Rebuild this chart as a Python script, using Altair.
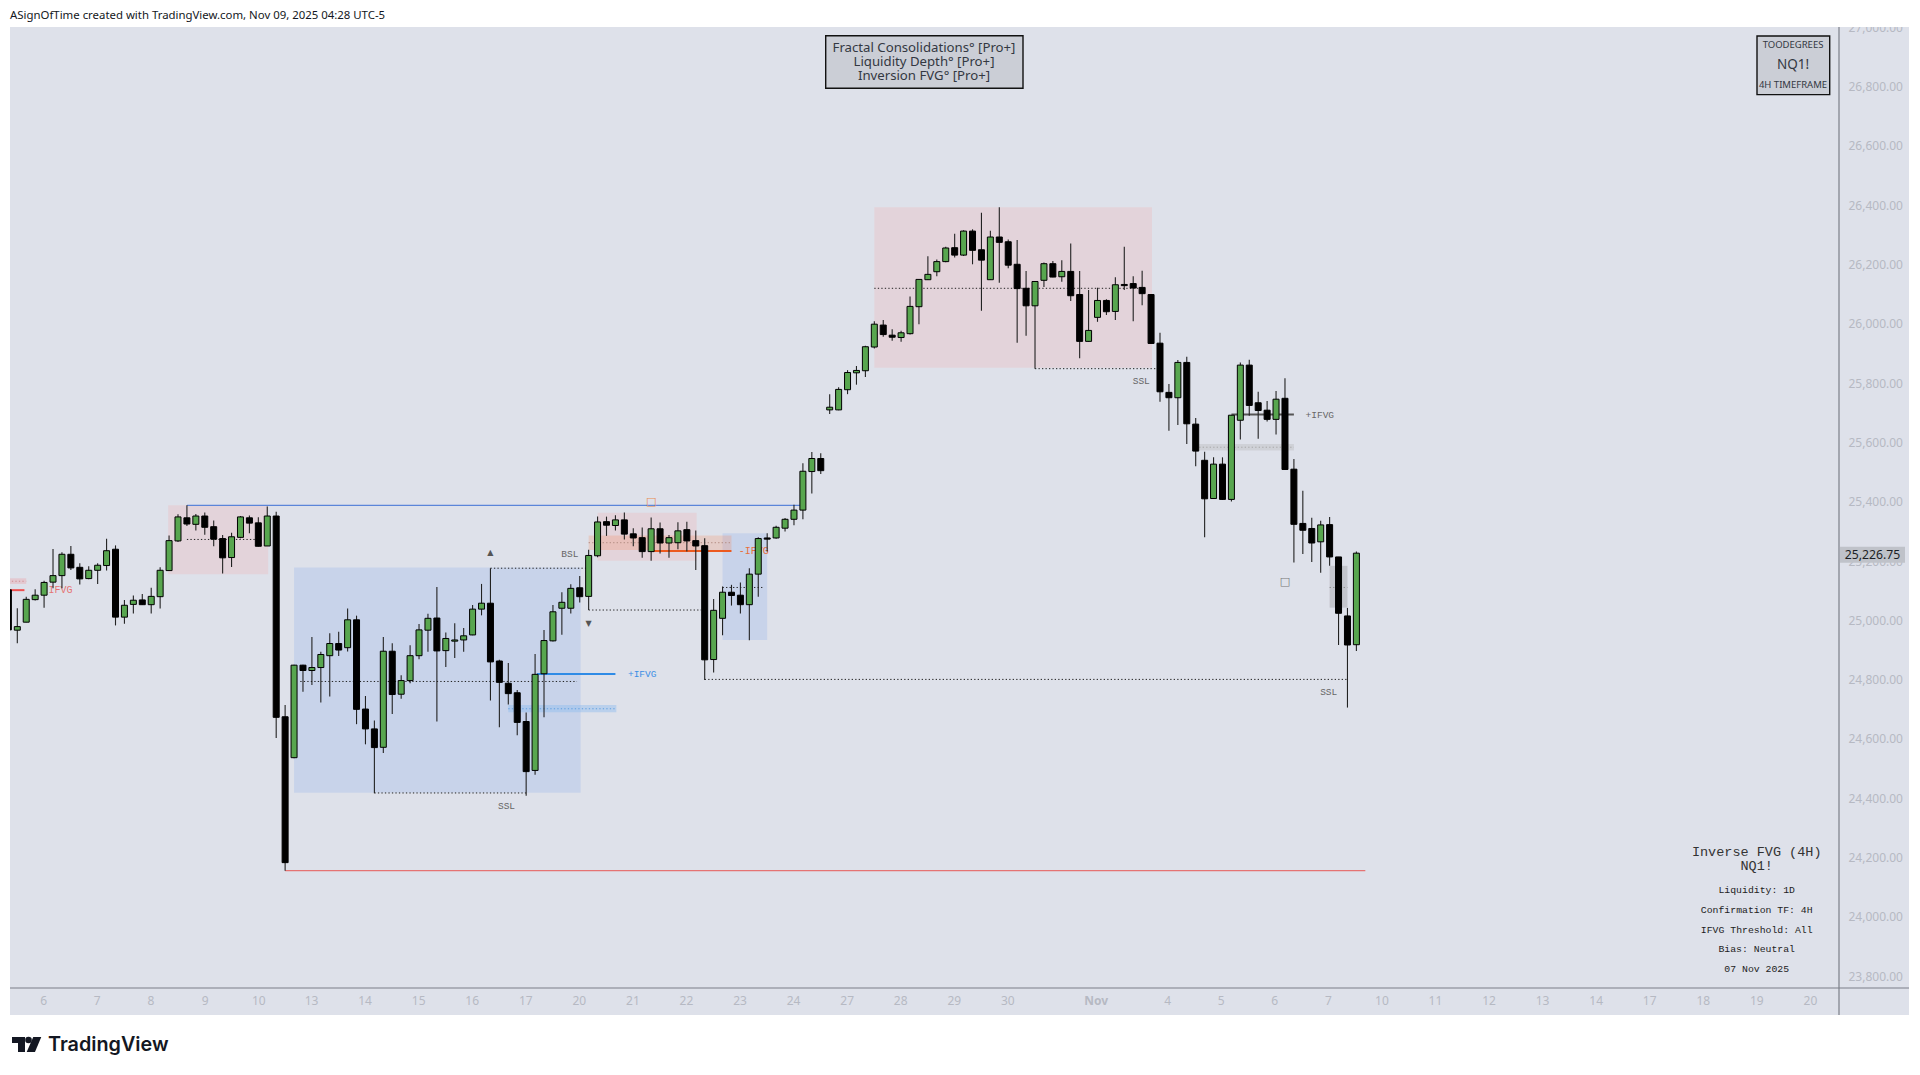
import json
import altair as alt
import pandas as pd

# ---- candle values (bar index -1 .. 150) ----
HIGH = [25103,
 25041,25080,25105,25134,25241,25230,25251,25193,25183,25193,
 25275,25253,25069,25084,25089,25110,25179,25286,25358,25388,
 25359,25364,25337,25288,25296,25352,25354,25348,25384,25366,
 24715,24850,24850,24944,24894,24957,24962,25040,25016,24745,
 24662,24944,24923,24815,24916,24988,25022,25113,24959,24990,
 24974,25052,25123,25176,24867,24856,24765,24689,24887,24968,
 25052,25095,25122,25150,25238,25350,25350,25355,25364,25311,
 25313,25347,25330,25288,25331,25333,25303,25277,25072,25114,
 25120,25128,25176,25280,25294,25319,25345,25390,25530,25568,
 25564,25763,25786,25844,25858,25926,26009,26013,25982,25977,
 26092,26150,26228,26217,26260,26304,26316,26319,26375,26314,
 26393,26285,26283,26178,26144,26207,26212,26215,26271,26178,
 26114,26122,26083,26157,26260,26161,26179,26101,25970,25797,
 25878,25889,25683,25569,25550,25550,25693,25870,25879,25771,
 25740,25774,25817,25544,25437,25346,25336,25349,25214,25042,
 25232]
BODY_TOP = [25103,
 24979,25071,25085,25128,25151,25223,25223,25179,25169,25186,
 25235,25240,25051,25068,25069,25081,25169,25269,25349,25346,
 25352,25352,25316,25276,25282,25349,25346,25329,25352,25352,
 24675,24849,24849,24841,24885,24922,24922,25002,25002,24701,
 24634,24896,24896,24797,24881,24968,25007,25008,24939,24934,
 24948,25038,25058,25058,24863,24788,24756,24659,24818,24932,
 25029,25061,25108,25110,25219,25332,25333,25339,25339,25292,
 25279,25309,25309,25279,25302,25306,25269,25252,25034,25095,
 25095,25085,25156,25276,25278,25314,25341,25372,25503,25546,
 25546,25719,25779,25836,25843,25923,25999,25996,25962,25970,
 26059,26150,26167,26210,26256,26257,26313,26313,26250,26293,
 26293,26277,26201,26120,26143,26203,26203,26177,26177,26099,
 25978,26079,26079,26132,26133,26136,26123,26099,25935,25769,
 25870,25870,25662,25540,25527,25527,25692,25861,25861,25734,
 25709,25746,25749,25510,25327,25310,25322,25323,25214,25015,
 25226.75]
BODY_BOTTOM = [24968,
 24967,24994,25070,25085,25129,25151,25177,25140,25141,25169,
 25185,25011,25011,25054,25053,25053,25080,25168,25268,25325,
 25324,25314,25274,25211,25212,25280,25328,25250,25251,24673,
 24183,24537,24831,24831,24841,24881,24900,24908,24700,24634,
 24571,24572,24750,24751,24797,24881,24967,24897,24898,24930,
 24934,24951,25038,24860,24791,24753,24656,24490,24494,24820,
 24931,25041,25041,25080,25081,25218,25321,25320,25291,25278,
 25232,25232,25261,25261,25262,25268,25251,24867,24868,25007,
 25084,25053,25053,25156,25274,25278,25311,25341,25372,25502,
 25505,25710,25710,25778,25835,25842,25922,25964,25955,25954,
 25967,26058,26149,26176,26210,26232,26232,26248,26215,26149,
 26275,26198,26119,26061,26061,26147,26158,26159,26095,25941,
 25941,26022,26041,26042,26129,26121,26102,25934,25771,25751,
 25751,25663,25571,25410,25411,25408,25408,25675,25725,25708,
 25678,25678,25509,25324,25304,25261,25265,25214,25024,24917,
 24918]
LOW = [24968,
 24923,24994,25067,25043,25108,25108,25170,25121,25139,25123,
 25168,24983,24989,25023,25052,25023,25040,25168,25264,25318,
 25303,25289,25250,25158,25180,25277,25294,25249,25251,24603,
 24156,24535,24759,24782,24723,24743,24880,24895,24650,24582,
 24417,24553,24684,24736,24788,24869,24894,24659,24843,24873,
 24894,24950,25017,24730,24640,24716,24613,24409,24479,24673,
 24929,24952,25023,25060,25035,25213,25285,25303,25273,25250,
 25211,25201,25226,25211,25240,25232,25170,24799,24824,24950,
 25050,25023,24933,25080,25232,25275,25300,25321,25341,25428,
 25494,25696,25709,25763,25795,25821,25917,25957,25943,25940,
 25964,25999,26148,26161,26208,26224,26229,26201,26044,26148,
 26139,26188,25936,25960,25849,26124,26157,26142,26077,25884,
 25940,26007,26030,26013,26114,26009,26063,25934,25737,25640,
 25659,25595,25520,25280,25411,25406,25401,25610,25690,25613,
 25671,25627,25509,25195,25224,25197,25161,25184,24917,24706,
 24897]
BULL = [0,
 1,1,1,1,1,1,0,0,1,1,
 1,0,1,1,0,1,1,1,1,0,
 1,0,0,0,1,1,0,0,1,0,
 0,1,0,1,1,1,0,1,0,0,
 0,1,0,1,1,1,1,0,1,1,
 1,1,1,0,0,0,0,0,1,1,
 1,1,1,0,1,1,0,1,0,0,
 0,1,0,1,1,0,0,0,1,1,
 0,0,1,1,0,1,1,1,1,1,
 0,1,1,1,1,1,1,0,0,1,
 1,1,1,1,1,0,1,0,0,1,
 0,0,0,0,1,1,0,1,0,0,
 1,1,0,1,0,0,0,0,0,0,
 1,0,0,0,1,0,1,1,0,0,
 0,1,0,0,0,0,1,0,0,0,
 1]
FIRST_BAR = -1

# ---- axis content ----
PRICE_TICKS = [23800 + 200 * k for k in range(17)]
DAY_TICKS = [2.9, 8.9, 14.9, 21, 27, 32.9, 38.9, 44.9, 50.9, 56.9, 62.9, 68.9, 74.9, 80.9, 86.9, 92.9,
             98.9, 104.9, 110.9, 120.8, 128.8, 134.8, 140.8, 146.8, 152.8, 158.8, 164.8, 170.8, 176.8,
             182.8, 188.8, 194.8, 200.8]
DAY_LABELS = ["6", "7", "8", "9", "10", "13", "14", "15", "16", "17", "20", "21", "22", "23", "24",
              "27", "28", "29", "30", "Nov", "4", "5", "6", "7", "10", "11", "12", "13", "14", "17",
              "18", "19", "20"]
LAST_PRICE = 25226.75

# ---- zones: start bar, end bar, price top, price bottom, colour, opacity ----
ZONES = [
    (31, 63.1, 25178, 24419, "#c8d3ea", 1),
    (79, 84, 25294, 24934, "#c8d3ea", 1),
    (16.9, 28.1, 25388, 25156, "#e3d3da", 1),
    (65, 76.1, 25363, 25201, "#e3d3da", 1),
    (96, 127.1, 26393, 25852, "#e3d3da", 1),
    (64, 80, 25286, 25237, "#ff7a3c", 0.2),
    (-1, 1, 25142, 25123, "#e3c8d0", 1),
    (55, 67.1, 24715, 24690, "#8fbdf0", 0.45),
    (132, 143, 25595, 25573, "#cfd1d7", 1),
    (147, 149, 25184, 25043, "#c3c5cc", 1),
]
# ---- dotted levels: start bar, end bar, price, colour ----
DOTTED = [
    (19, 27, 25273, "#222222"), (31.7, 62.7, 24794, "#222222"), (40, 57, 24418, "#222222"),
    (53, 63.9, 25176, "#222222"), (64, 76.6, 25035, "#222222"), (77, 149, 24801, "#222222"),
    (79, 83.7, 25111, "#222222"), (96, 126, 26120, "#222222"), (114, 128, 25849, "#222222"),
    (55, 67, 24702, "#5f9fe0"), (132, 143, 25584, "#a8a8a8"), (147, 149, 25111, "#8a8a8a"),
    (64, 80, 25262, "#b08a80"), (-1, 1, 25132, "#d08a90"),
]
# ---- solid levels: start bar, end bar, price, colour, width ----
SOLID = [
    (19, 87.8, 25388, "#5b85d9", 1.2), (30, 151, 24156, "#e57373", 1.1),
    (-1, 0.8, 25102, "#ee5050", 2), (71.1, 80, 25234, "#ec5a1f", 2),
    (58.2, 67, 24819, "#2f8be6", 2), (136, 143, 25694, "#555555", 2),
]
# ---- annotation texts: bar, price, text, colour, size, font ----
MONO = "Liberation Mono"
NOTES = [
    (4.5, 25102, "-IFVG", "#e57373", 10, MONO),
    (82.5, 25234, "-IFVG", "#e8703a", 10, MONO),
    (70, 24819, "+IFVG", "#3b8ee5", 9.5, MONO),
    (145.9, 25693, "+IFVG", "#666666", 9.5, MONO),
    (61.9, 25224, "BSL", "#666666", 9.5, MONO),
    (54.8, 24375, "SSL", "#666666", 9.5, MONO),
    (125.9, 25807, "SSL", "#666666", 9.5, MONO),
    (146.9, 24758, "SSL", "#666666", 9.5, MONO),
    (71, 25400, "\u25a1", "#e88c50", 11, "DejaVu Sans"),
    (142, 25129, "\u25a1", "#777777", 11, "DejaVu Sans"),
    (53, 25228, "\u25b2", "#555555", 8, "DejaVu Sans"),
    (64, 24988, "\u25bc", "#555555", 8, "DejaVu Sans"),
]
HEADER = "ASignOfTime created with TradingView.com, Nov 09, 2025 04:28 UTC-5"
TOP_BOX = ["Fractal Consolidations\u00b0 [Pro+]", "Liquidity Depth\u00b0 [Pro+]", "Inversion FVG\u00b0 [Pro+]"]
TABLE = ["Liquidity: 1D", "Confirmation TF: 4H", "IFVG Threshold: All", "Bias: Neutral", "07 Nov 2025"]

PX = 10   # page x of the plot's left edge
PY = 27   # page y of the plot's top edge
W, H = 1829, 961
xs = alt.Scale(domain=[-0.818, 204.06], nice=False, zero=False, padding=0)
ys = alt.Scale(domain=[23760.2, 27001.3], nice=False, zero=False, padding=0)

XAX = alt.Axis(
    values=DAY_TICKS, domain=False, ticks=False, grid=False, labelPadding=7, labelOverlap=False,
    labelExpr="%s[indexof(%s,datum.value)]" % (json.dumps(DAY_LABELS), json.dumps(DAY_TICKS)),
    labelColor="#b6b9c3", labelFontSize=12, labelFont="Noto Sans",
    labelFontWeight=alt.expr("datum.value==120.8?'bold':'normal'"), zindex=0)
YAX = alt.Axis(
    orient="right", values=PRICE_TICKS, format=",.2f", domain=False, ticks=False, grid=False,
    labelPadding=9, labelOverlap=False, labelColor="#b6b9c3", labelFontSize=12,
    labelFont="Noto Sans", zindex=0)

bars = pd.DataFrame({
    "i": list(range(FIRST_BAR, FIRST_BAR + len(HIGH))), "h": HIGH, "l": LOW,
    "t": BODY_TOP, "b": BODY_BOTTOM,
    "c": ["#58a64f" if v else "#000000" for v in BULL],
})
zones = pd.DataFrame(ZONES, columns=["a", "b", "p", "q", "c", "o"])
dotted = pd.DataFrame(DOTTED, columns=["a", "b", "p", "c"])
solid = pd.DataFrame(SOLID, columns=["a", "b", "p", "c", "w"])

AX = lambda f: alt.X(f, scale=xs, axis=XAX, title=None)
AY = lambda f: alt.Y(f, scale=ys, axis=YAX, title=None)
ONE = alt.Data(values=[{"k": 1}])

layers = []
layers.append(alt.Chart(zones).mark_rect(clip=True).encode(
    x=AX("a:Q"), x2="b:Q", y=AY("p:Q"), y2="q:Q",
    color=alt.Color("c:N", scale=None), opacity=alt.Opacity("o:Q", scale=None)))
layers.append(alt.Chart(dotted).mark_rule(clip=True, strokeDash=[1.3, 2.2], strokeWidth=1).encode(
    x=AX("a:Q"), x2="b:Q", y=AY("p:Q"), color=alt.Color("c:N", scale=None)))
layers.append(alt.Chart(solid).mark_rule(clip=True).encode(
    x=AX("a:Q"), x2="b:Q", y=AY("p:Q"), color=alt.Color("c:N", scale=None),
    strokeWidth=alt.StrokeWidth("w:Q", scale=None)))
for (i, p, t, c, s, f) in NOTES:
    layers.append(alt.Chart(alt.Data(values=[{"i": i, "p": p, "t": t}])).mark_text(
        color=c, fontSize=s, font=f, align="center", baseline="middle", clip=True).encode(
        x=AX("i:Q"), y=AY("p:Q"), text="t:N"))
layers.append(alt.Chart(bars).mark_rule(clip=True, color="#222222", strokeWidth=1.1).encode(
    x=AX("i:Q"), y=AY("l:Q"), y2="h:Q"))
layers.append(alt.Chart(bars).mark_bar(clip=True, size=6, stroke="#000000", strokeWidth=1,
                                       orient="vertical").encode(
    x=AX("i:Q"), y=AY("b:Q"), y2="t:Q", color=alt.Color("c:N", scale=None)))


def box(x0, x1, y0, y1, fill, **kw):
    return alt.Chart(ONE).mark_rect(fill=fill, **kw).encode(
        x=alt.value(x0 - PX), x2=alt.value(x1 - PX), y=alt.value(y0 - PY), y2=alt.value(y1 - PY))


def line(x0, x1, y0, y1, color, width):
    return alt.Chart(ONE).mark_rule(color=color, strokeWidth=width).encode(
        x=alt.value(x0 - PX), x2=alt.value(x1 - PX), y=alt.value(y0 - PY), y2=alt.value(y1 - PY))


def txt(s, x, y, size, color="#131722", font="Noto Sans", align="center", weight="normal"):
    return alt.Chart(alt.Data(values=[{"t": s}])).mark_text(
        fontSize=size, color=color, font=font, align=align, baseline="middle", fontWeight=weight
    ).encode(text="t:N", x=alt.value(x - PX), y=alt.value(y - PY))


# white page around the panel (the canvas background is the panel colour)
layers += [
    box(8, 1912, 8, 27, "#ffffff"), box(8, 1912, 1015, 1067, "#ffffff"),
    box(8, 10, 8, 1067, "#ffffff"), box(1909, 1912, 8, 1067, "#ffffff"),
    line(1839, 1839, 27, 1015, "#7b7f88", 1.2),
    line(10, 1909, 988, 988, "#7b7f88", 1.2),
]
# last price tag
layers += [box(1840, 1905, 546.7, 562.7, "#bfc2c9"),
           txt("{:,.2f}".format(LAST_PRICE), 1872.5, 554.7, 12.2, "#1c1f26")]
# header + logo
layers.append(txt(HEADER, 10, 16, 11.4, "#131722", align="left"))
layers += [box(12, 25, 1037, 1043, "#131722"), box(18, 25, 1043, 1052, "#131722")]
layers.append(alt.Chart(ONE).mark_point(filled=True, size=44, shape="circle", color="#131722", opacity=1, strokeWidth=0)
              .encode(x=alt.value(28.5 - PX), y=alt.value(1040 - PY)))
layers.append(alt.Chart(ONE).mark_point(filled=True, size=225, color="#131722", opacity=1, strokeWidth=0,
                                        shape="M-0.1,-1 L0.97,-1 L0.13,1 L-0.97,1 Z")
              .encode(x=alt.value(34 - PX), y=alt.value(1044.5 - PY)))
layers.append(txt("TradingView", 48, 1045, 19.8, "#131722", "Inter", "left", 600))
# watermark boxes
layers.append(box(825.7, 1023, 35.7, 88.3, "#cbced6", stroke="#111111", strokeWidth=1.4))
for s, y in zip(TOP_BOX, [47.7, 62, 75.7]):
    layers.append(txt(s, 924, y, 13.2, "#333842"))
layers.append(box(1757, 1829.7, 36, 94.6, "#cbced6", stroke="#111111", strokeWidth=1.4))
layers += [txt("TOODEGREES", 1793, 45, 9.5, "#333842"), txt("NQ1!", 1793, 65, 13.5, "#333842"),
           txt("4H TIMEFRAME", 1793, 85, 9.5, "#333842")]
# summary table
layers += [txt("Inverse FVG (4H)", 1756.7, 852, 13.5, "#333333", MONO),
           txt("NQ1!", 1756.7, 866, 13.5, "#333333", MONO)]
for s, y in zip(TABLE, [890, 910, 929.7, 949, 969]):
    layers.append(txt(s, 1756.7, y, 9.8, "#222222", MONO))

chart = alt.layer(*layers).properties(
    width=W, height=H, background="#dee1ea",
    padding={"left": 2, "top": 19, "right": 73, "bottom": 79},
    autosize=alt.AutoSizeParams(type="none"),
).configure_view(strokeWidth=0)

chart.save("out.html", embed_options={"renderer": "svg", "actions": False})
